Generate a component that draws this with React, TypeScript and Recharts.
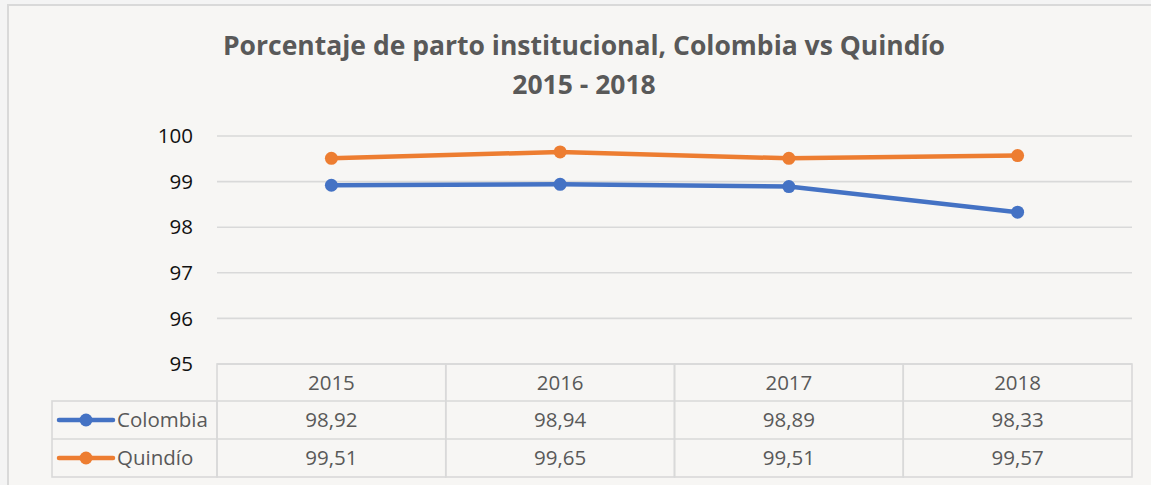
import { CartesianGrid, Line, LineChart, XAxis, YAxis } from 'recharts'

const years = ['2015', '2016', '2017', '2018']
const colombia = [98.92, 98.94, 98.89, 98.33]
const quindio = [99.51, 99.65, 99.51, 99.57]
const yTicks = [95, 96, 97, 98, 99, 100]

const seriesInfo = [
  { name: 'Colombia', values: colombia, color: '#4472C4' },
  { name: 'Quindío', values: quindio, color: '#ED7D31' },
]

const data = years.map((year, i) => ({ year, colombia: colombia[i], quindio: quindio[i] }))

const W = 1151
const H = 485
const gridColor = '#d9d9d9'
const textGray = '#595959'
const font = '"Open Sans", sans-serif'
const halfCell = 114.4
const rowH = [37, 38, 38]
const cellFont = 20.5

const fmt = (v: number) => v.toFixed(2).replace('.', ',')

function TableTick(props: any) {
  const { x, y, index, payload } = props
  const r1 = y + rowH[0]
  const r2 = r1 + rowH[1]
  const r3 = r2 + rowH[2]
  return (
    <g>
      <rect x={x - halfCell} y={y} width={halfCell * 2} height={r3 - y} fill="none" stroke={gridColor} strokeWidth={1.6} />
      <line x1={x - halfCell} x2={x + halfCell} y1={r1} y2={r1} stroke={gridColor} strokeWidth={1.6} />
      <line x1={x - halfCell} x2={x + halfCell} y1={r2} y2={r2} stroke={gridColor} strokeWidth={1.6} />
      <text x={x} y={y + rowH[0] / 2} dy="0.36em" textAnchor="middle" fontSize={cellFont} fill={textGray} fontFamily={font}>
        {payload.value}
      </text>
      {seriesInfo.map((s, k) => (
        <text key={s.name} x={x} y={(k === 0 ? r1 : r2) + rowH[1] / 2} dy="0.36em" textAnchor="middle" fontSize={cellFont} fill={textGray} fontFamily={font}>
          {fmt(s.values[index])}
        </text>
      ))}
      {index === 0 && (
        <g>
          <rect x={52} y={r1} width={x - halfCell - 52} height={r3 - r1} fill="none" stroke={gridColor} strokeWidth={1.6} />
          <line x1={52} x2={x - halfCell} y1={r2} y2={r2} stroke={gridColor} strokeWidth={1.6} />
          {seriesInfo.map((s, k) => {
            const cy = (k === 0 ? r1 : r2) + rowH[1] / 2
            return (
              <g key={s.name}>
                <line x1={59} x2={113} y1={cy} y2={cy} stroke={s.color} strokeWidth={4.5} strokeLinecap="round" />
                <circle cx={86} cy={cy} r={6.5} fill={s.color} />
                <text x={117} y={cy} dy="0.36em" fontSize={cellFont} fill={textGray} fontFamily={font}>
                  {s.name}
                </text>
              </g>
            )
          })}
        </g>
      )}
    </g>
  )
}

export default function App() {
  return (
    <div style={{ position: 'absolute', left: 0, top: 0, width: W, height: H, background: '#f4f4f4', overflow: 'hidden' }}>
      <div
        style={{
          position: 'absolute',
          left: 7,
          top: 4,
          width: W,
          height: H,
          background: '#f7f6f4',
          borderLeft: '2px solid #d9d9d9',
          borderTop: '2px solid #d9d9d9',
        }}
      />
      <div
        style={{
          position: 'absolute',
          left: 0,
          top: 26,
          width: 1168,
          textAlign: 'center',
          fontFamily: font,
          fontWeight: 'bold',
          fontSize: 26.5,
          lineHeight: '39px',
          color: textGray,
        }}
      >
        Porcentaje de parto institucional, Colombia vs Quindío
        <br />
        2015 - 2018
      </div>
      <div style={{ position: 'absolute', left: 0, top: 0 }}>
        <LineChart width={W} height={H} data={data} margin={{ top: 136, right: 19, bottom: 8, left: 157 }}>
          <CartesianGrid horizontal vertical={false} stroke={gridColor} strokeWidth={1.6} />
          <XAxis
            dataKey="year"
            height={113}
            axisLine={false}
            tickLine={false}
            tickSize={0}
            tickMargin={0}
            padding={{ left: halfCell, right: halfCell }}
            tick={<TableTick />}
            interval={0}
          />
          <YAxis
            width={60}
            domain={[95, 100]}
            ticks={yTicks}
            axisLine={false}
            tickLine={false}
            tickSize={0}
            tickMargin={24}
            tick={{ fontSize: 20.5, fill: '#111', fontFamily: font }}
          />
          <Line dataKey="colombia" stroke="#4472C4" strokeWidth={4.5} dot={{ r: 6.5, fill: '#4472C4', stroke: '#4472C4', strokeWidth: 0 }} isAnimationActive={false} />
          <Line dataKey="quindio" stroke="#ED7D31" strokeWidth={4.5} dot={{ r: 6.5, fill: '#ED7D31', stroke: '#ED7D31', strokeWidth: 0 }} isAnimationActive={false} />
        </LineChart>
      </div>
    </div>
  )
}
